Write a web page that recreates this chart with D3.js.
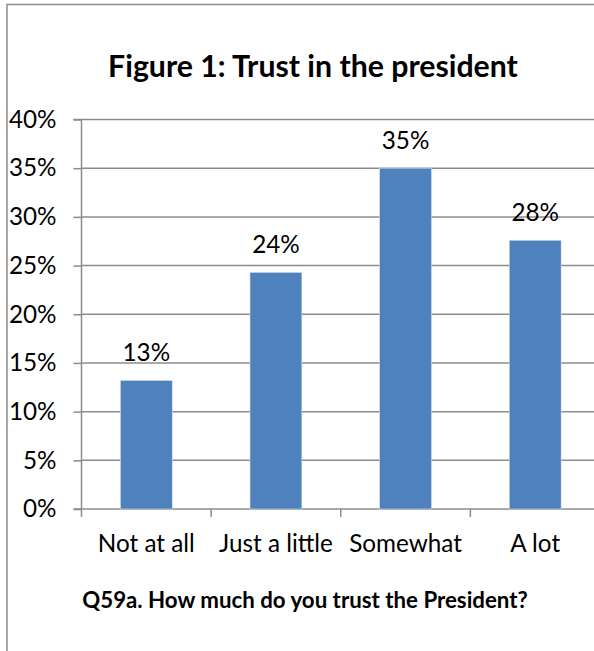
<!DOCTYPE html>
<html><head><meta charset="utf-8">
<script src="https://cdn.jsdelivr.net/npm/d3@7"></script>
<style>body{margin:0;background:#fff}svg{display:block}text{font-family:Lato,"Open Sans",sans-serif}</style>
</head><body><svg id="c" width="594" height="651"></svg>
<script>
const categories = ["Not at all", "Just a little", "Somewhat", "A lot"];
const values = [0.132, 0.243, 0.350, 0.276];
const valueLabels = ["13%", "24%", "35%", "28%"];
const yTicks = [0, 0.05, 0.10, 0.15, 0.20, 0.25, 0.30, 0.35, 0.40];
const title = "Figure 1: Trust in the president";
const caption = "Q59a. How much do you trust the President?";

(function () {
const svg = d3.select("#c");
const grid = "#8c8c8c";
const pLeft = 81.5, pRight = 600, pTop = 119.5, pBottom = 509;

// measure body font size so "Not at all" is ~97px wide
const probe = svg.append("text").attr("font-size", 20).text(categories[0]);
const fs = 20 * 97 / probe.node().getComputedTextLength();
probe.remove();

// frame
svg.append("path").attr("d", "M7,651 V4.5 H594").attr("fill", "none").attr("stroke", grid).attr("stroke-width", 1.5);

const x = d3.scaleBand().domain(categories).range([pLeft, pRight]).paddingInner(0.6).paddingOuter(0.3);
const y = d3.scaleLinear().domain([0, 0.4]).range([pBottom, pTop]);

function fit(sel, w) {
  const cur = sel.node().getComputedTextLength();
  const f = parseFloat(sel.attr("font-size"));
  sel.attr("font-size", f * w / cur);
}

// gridlines
svg.append("g").selectAll("line").data(yTicks.slice(1)).join("line")
  .attr("x1", pLeft).attr("x2", pRight).attr("y1", d => y(d)).attr("y2", d => y(d))
  .attr("stroke", grid).attr("stroke-width", 1.5);

// y axis
const ya = svg.append("g").attr("transform", `translate(${pLeft},0)`)
  .call(d3.axisLeft(y).tickValues(yTicks).tickFormat(d3.format(".0%")).tickSize(8).tickPadding(17));
ya.select(".domain").attr("stroke", grid).attr("stroke-width", 1.5).attr("d", `M-8,${pTop}H0V${pBottom}H-8`);
ya.selectAll(".tick line").attr("stroke", grid).attr("stroke-width", 1.5);
ya.selectAll(".tick text").attr("font-size", fs).attr("fill", "#000").attr("font-family", "Lato");

// x axis
const xa = svg.append("g").attr("transform", `translate(0,${pBottom})`)
  .call(d3.axisBottom(x).tickSize(0));
xa.select(".domain").remove();
xa.selectAll(".tick text").attr("font-size", fs).attr("fill", "#000").attr("font-family", "Lato")
  .attr("y", 43).attr("dy", 0);
const step = x.step();
svg.append("g").selectAll("line").data(d3.range(categories.length + 1)).join("line")
  .attr("x1", i => pLeft + i * step).attr("x2", i => pLeft + i * step)
  .attr("y1", pBottom).attr("y2", pBottom + 8).attr("stroke", grid).attr("stroke-width", 1.5);
svg.append("line").attr("x1", pLeft).attr("x2", pRight).attr("y1", pBottom).attr("y2", pBottom)
  .attr("stroke", grid).attr("stroke-width", 1.5);

// bars
svg.append("g").selectAll("rect").data(values).join("rect")
  .attr("x", (d, i) => x(categories[i])).attr("width", x.bandwidth())
  .attr("y", d => y(d)).attr("height", d => pBottom - y(d))
  .attr("fill", "#4f81bd").attr("stroke", "#cfe0f3").attr("stroke-width", 0.6);

// value labels
svg.append("g").selectAll("text").data(values).join("text")
  .attr("x", (d, i) => x(categories[i]) + x.bandwidth() / 2)
  .attr("y", d => y(d) - 19)
  .attr("text-anchor", "middle").attr("font-size", fs).attr("fill", "#000")
  .text((d, i) => valueLabels[i]);

// title
const t = svg.append("text").attr("x", 313).attr("y", 77).attr("text-anchor", "middle")
  .attr("font-size", 26).attr("font-weight", "bold").attr("fill", "#000").text(title);
fit(t, 410);

const c = svg.append("text").attr("x", 305).attr("y", 608).attr("text-anchor", "middle")
  .attr("font-size", 16).attr("font-weight", "bold").attr("fill", "#000").text(caption);
fit(c, 446);
})();
</script></body></html>
